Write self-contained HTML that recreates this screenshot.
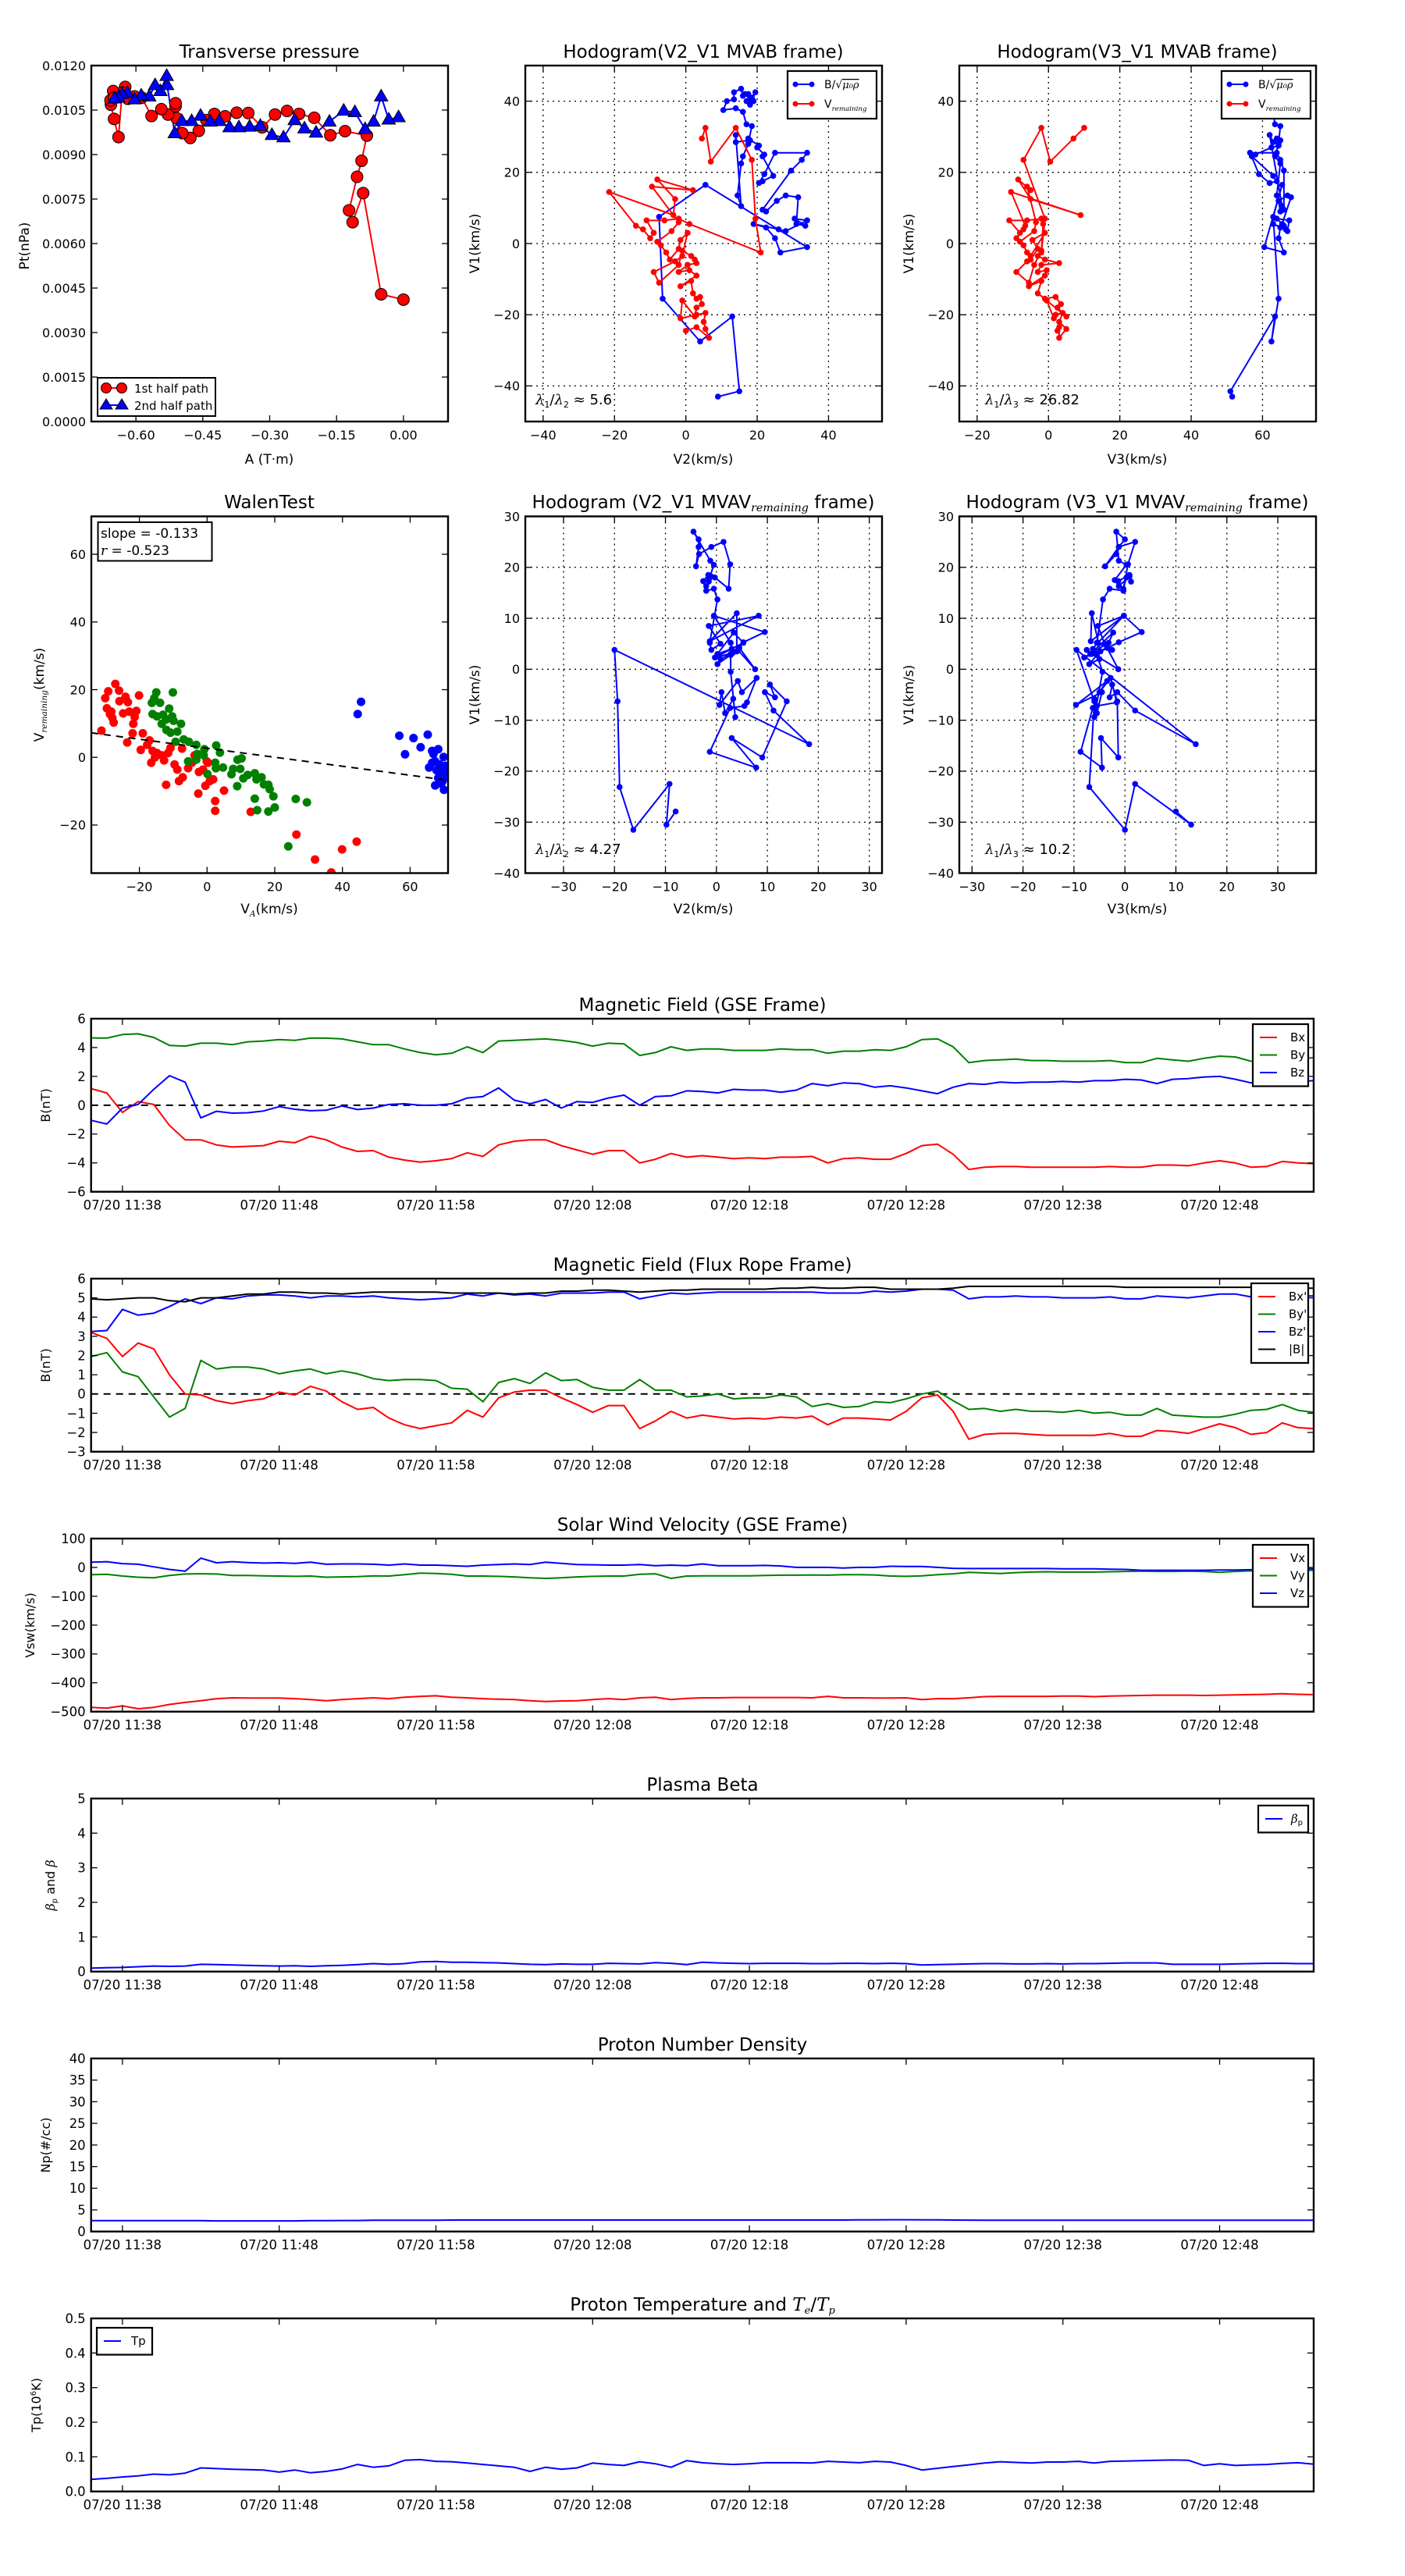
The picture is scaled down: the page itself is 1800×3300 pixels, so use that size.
<!DOCTYPE html>
<html><head><meta charset="utf-8"><style>
html,body{margin:0;padding:0;background:#fff;}
svg{display:block;font-family:"DejaVu Sans","Liberation Sans",sans-serif;}
</style></head><body>
<svg id="fig" xmlns="http://www.w3.org/2000/svg" width="1800" height="3300" viewBox="0 0 1800 3300"></svg>
<script>
// ===== Time series data (1-minute samples from 11:36) =====
const tsBx=[1.15,0.85,-0.5,0.25,0.05,-1.4,-2.4,-2.4,-2.75,-2.9,-2.85,-2.8,-2.5,-2.6,-2.15,-2.4,-2.9,-3.2,-3.15,-3.6,-3.8,-3.95,-3.85,-3.7,-3.3,-3.55,-2.75,-2.5,-2.4,-2.4,-2.8,-3.1,-3.4,-3.15,-3.15,-4.0,-3.75,-3.35,-3.6,-3.5,-3.6,-3.7,-3.65,-3.7,-3.6,-3.6,-3.55,-4.0,-3.7,-3.65,-3.75,-3.75,-3.35,-2.8,-2.7,-3.4,-4.45,-4.3,-4.25,-4.25,-4.3,-4.3,-4.3,-4.3,-4.3,-4.25,-4.3,-4.3,-4.15,-4.15,-4.2,-4.0,-3.85,-4.0,-4.3,-4.25,-3.9,-4.0,-4.05];
const tsBy=[4.67,4.65,4.9,4.95,4.7,4.15,4.1,4.3,4.3,4.2,4.4,4.45,4.55,4.5,4.65,4.65,4.6,4.4,4.2,4.2,3.9,3.65,3.5,3.6,4.05,3.65,4.45,4.5,4.55,4.6,4.5,4.35,4.1,4.3,4.25,3.45,3.65,4.05,3.8,3.9,3.9,3.8,3.8,3.8,3.9,3.85,3.85,3.6,3.75,3.75,3.85,3.8,4.05,4.55,4.6,4.05,2.95,3.1,3.15,3.2,3.1,3.1,3.05,3.05,3.05,3.1,2.95,2.95,3.25,3.15,3.05,3.25,3.4,3.35,3.05,3.1,3.2,3.2,3.3];
const tsBz=[-1.05,-1.3,-0.2,0.05,1.1,2.05,1.6,-0.88,-0.42,-0.55,-0.52,-0.4,-0.1,-0.28,-0.38,-0.35,-0.05,-0.3,-0.2,0.05,0.1,0,0,0.1,0.5,0.6,1.2,0.35,0.1,0.4,-0.2,0.25,0.2,0.5,0.7,0,0.6,0.65,1.0,0.95,0.85,1.1,1.05,1.05,0.9,1.05,1.5,1.35,1.55,1.5,1.25,1.35,1.2,1.0,0.8,1.25,1.5,1.45,1.6,1.55,1.6,1.6,1.65,1.6,1.7,1.7,1.8,1.75,1.5,1.8,1.85,1.95,2.0,1.8,1.55,1.55,1.4,1.65,1.7];
const frBx=[3.2,2.9,1.95,2.65,2.35,1.0,0,-0.05,-0.35,-0.5,-0.35,-0.25,0.1,-0.05,0.4,0.15,-0.4,-0.8,-0.7,-1.25,-1.6,-1.8,-1.65,-1.5,-0.85,-1.2,-0.2,0.1,0.2,0.2,-0.2,-0.55,-0.95,-0.6,-0.6,-1.8,-1.4,-0.9,-1.25,-1.1,-1.2,-1.3,-1.25,-1.3,-1.2,-1.25,-1.15,-1.6,-1.25,-1.25,-1.3,-1.35,-0.9,-0.2,-0.05,-0.9,-2.35,-2.1,-2.05,-2.05,-2.1,-2.15,-2.15,-2.15,-2.15,-2.05,-2.2,-2.2,-1.9,-1.95,-2.05,-1.8,-1.55,-1.75,-2.1,-2.0,-1.5,-1.75,-1.8];
const frBy=[1.95,2.15,1.15,0.9,-0.15,-1.2,-0.75,1.75,1.3,1.4,1.4,1.3,1.05,1.2,1.3,1.05,1.2,1.05,0.8,0.7,0.75,0.75,0.7,0.3,0.25,-0.4,0.6,0.8,0.55,1.1,0.7,0.75,0.35,0.2,0.2,0.75,0.2,0.2,-0.15,-0.1,0.0,-0.25,-0.2,-0.2,-0.05,-0.15,-0.65,-0.5,-0.7,-0.65,-0.4,-0.45,-0.25,0.0,0.15,-0.35,-0.8,-0.75,-0.9,-0.8,-0.9,-0.9,-0.95,-0.85,-1.0,-0.95,-1.1,-1.1,-0.75,-1.1,-1.15,-1.2,-1.2,-1.05,-0.85,-0.8,-0.55,-0.85,-0.95];
const frBz=[3.25,3.3,4.4,4.1,4.2,4.55,4.95,4.7,5.0,4.95,5.1,5.15,5.15,5.1,5.0,5.1,5.1,5.05,5.1,5.0,4.95,4.9,4.95,5.0,5.2,5.1,5.25,5.15,5.2,5.1,5.25,5.25,5.25,5.3,5.3,4.95,5.1,5.25,5.2,5.25,5.3,5.3,5.3,5.3,5.3,5.3,5.3,5.25,5.25,5.25,5.35,5.3,5.35,5.45,5.45,5.4,4.95,5.05,5.05,5.1,5.05,5.05,5.0,5.0,5.0,5.05,4.95,4.95,5.1,5.05,5.0,5.1,5.2,5.2,5.05,5.1,5.1,5.1,5.1];
const frBt=[4.95,4.9,4.95,5.0,5.0,4.85,4.8,5.0,5.0,5.1,5.2,5.2,5.3,5.3,5.25,5.25,5.2,5.25,5.3,5.3,5.3,5.3,5.3,5.25,5.25,5.25,5.25,5.2,5.25,5.25,5.35,5.35,5.4,5.4,5.35,5.3,5.35,5.4,5.4,5.45,5.45,5.45,5.45,5.45,5.5,5.5,5.55,5.5,5.5,5.55,5.55,5.45,5.45,5.45,5.45,5.5,5.6,5.6,5.6,5.6,5.6,5.6,5.6,5.6,5.6,5.6,5.55,5.55,5.55,5.55,5.55,5.55,5.55,5.55,5.55,5.55,5.5,5.5,5.5];
const vVx=[-485,-488,-480,-490,-485,-475,-468,-462,-455,-452,-453,-453,-453,-455,-458,-462,-458,-455,-452,-455,-450,-447,-445,-450,-452,-455,-457,-458,-462,-465,-463,-462,-458,-455,-458,-452,-450,-458,-454,-452,-452,-451,-451,-451,-451,-451,-452,-447,-452,-452,-453,-453,-452,-458,-455,-455,-452,-448,-447,-447,-447,-447,-446,-446,-448,-446,-445,-444,-443,-443,-443,-444,-443,-442,-441,-440,-438,-440,-441];
const vVy=[-25,-24,-30,-34,-36,-28,-23,-22,-23,-28,-28,-29,-30,-31,-30,-34,-33,-32,-29,-30,-25,-20,-21,-24,-30,-30,-31,-33,-36,-38,-36,-33,-31,-30,-30,-24,-22,-38,-30,-29,-29,-29,-29,-28,-27,-27,-26,-27,-25,-25,-26,-30,-31,-29,-25,-22,-17,-19,-21,-18,-16,-15,-16,-16,-16,-15,-14,-13,-14,-14,-13,-14,-17,-14,-12,-11,-10,-10,-10];
const vVz=[18,20,13,11,2,-7,-13,32,16,20,17,15,16,14,18,11,12,12,11,8,12,8,8,6,4,8,10,12,10,18,14,10,9,8,8,10,6,8,6,12,6,6,6,7,5,0,0,0,-2,0,0,4,3,3,0,-3,-4,-4,-4,-4,-4,-4,-5,-5,-5,-6,-7,-10,-10,-10,-10,-10,-9,-9,-8,-8,-6,-5,-5];
const betaP=[0.1,0.11,0.12,0.14,0.16,0.15,0.16,0.21,0.2,0.19,0.18,0.17,0.16,0.17,0.15,0.17,0.18,0.2,0.23,0.21,0.23,0.28,0.29,0.27,0.27,0.26,0.25,0.23,0.21,0.2,0.22,0.21,0.21,0.24,0.23,0.22,0.26,0.24,0.2,0.27,0.25,0.24,0.23,0.24,0.24,0.24,0.23,0.23,0.24,0.24,0.23,0.24,0.23,0.19,0.2,0.21,0.22,0.23,0.23,0.22,0.22,0.23,0.22,0.23,0.23,0.24,0.25,0.25,0.25,0.21,0.21,0.21,0.21,0.22,0.23,0.24,0.24,0.23,0.23];
const densNp=[2.5,2.5,2.5,2.5,2.5,2.5,2.5,2.5,2.45,2.45,2.45,2.45,2.45,2.45,2.5,2.5,2.55,2.55,2.6,2.6,2.6,2.62,2.62,2.65,2.65,2.65,2.65,2.65,2.65,2.65,2.65,2.65,2.65,2.65,2.65,2.65,2.65,2.65,2.65,2.65,2.65,2.65,2.65,2.65,2.65,2.65,2.65,2.65,2.65,2.68,2.7,2.72,2.72,2.7,2.68,2.65,2.63,2.62,2.6,2.6,2.6,2.6,2.6,2.6,2.6,2.6,2.6,2.6,2.6,2.6,2.6,2.6,2.6,2.6,2.6,2.6,2.6,2.6,2.6];
const tempTp=[0.035,0.038,0.042,0.045,0.05,0.048,0.053,0.068,0.066,0.064,0.063,0.062,0.056,0.062,0.054,0.058,0.065,0.078,0.07,0.074,0.09,0.092,0.087,0.086,0.082,0.078,0.074,0.07,0.058,0.07,0.064,0.068,0.082,0.078,0.075,0.086,0.08,0.07,0.089,0.083,0.08,0.078,0.08,0.083,0.083,0.083,0.082,0.087,0.085,0.083,0.087,0.085,0.075,0.062,0.067,0.072,0.077,0.082,0.086,0.084,0.082,0.085,0.085,0.087,0.082,0.087,0.088,0.089,0.09,0.091,0.09,0.075,0.08,0.075,0.077,0.078,0.081,0.083,0.079];
const timeTickMin=[2,12,22,32,42,52,62,72];
const timeTickLabels=["07/20 11:38","07/20 11:48","07/20 11:58","07/20 12:08","07/20 12:18","07/20 12:28","07/20 12:38","07/20 12:48"];

// ===== Transverse pressure =====
const ptA1=[0,-0.05,-0.0904,-0.114,-0.122,-0.104,-0.094,-0.082,-0.131,-0.164,-0.2,-0.234,-0.261,-0.288,-0.317,-0.348,-0.374,-0.4,-0.424,-0.442,-0.459,-0.478,-0.496,-0.509,-0.511,-0.511,-0.528,-0.543,-0.565,-0.587,-0.603,-0.618,-0.624,-0.631,-0.639,-0.649,-0.656,-0.657,-0.651,-0.649];
const ptP1=[0.00411,0.00429,0.0077,0.00672,0.00712,0.00825,0.00879,0.00964,0.00979,0.00965,0.01024,0.01037,0.01047,0.01035,0.00992,0.0104,0.01041,0.01029,0.01037,0.01016,0.0098,0.00956,0.00972,0.01023,0.01063,0.01073,0.01035,0.01053,0.0103,0.01092,0.01096,0.01088,0.01128,0.01109,0.00959,0.0102,0.01068,0.01083,0.01114,0.01092];
const ptA2=[-0.011,-0.033,-0.05,-0.067,-0.086,-0.109,-0.134,-0.166,-0.196,-0.222,-0.244,-0.269,-0.295,-0.321,-0.345,-0.369,-0.39,-0.413,-0.433,-0.455,-0.475,-0.497,-0.513,-0.53,-0.531,-0.545,-0.557,-0.57,-0.588,-0.603,-0.619,-0.631,-0.639,-0.648];
const ptP2=[0.01026,0.01018,0.01096,0.01011,0.00986,0.01043,0.01048,0.01011,0.00974,0.00988,0.01016,0.00958,0.00966,0.00997,0.00994,0.00992,0.00992,0.01013,0.01011,0.01031,0.01013,0.01013,0.00972,0.01134,0.01165,0.01114,0.01134,0.01096,0.01099,0.01086,0.01109,0.01104,0.01092,0.01089];
const ptXTicks=[-0.6,-0.45,-0.3,-0.15,0];
const ptXLabels=["\u22120.60","\u22120.45","\u22120.30","\u22120.15","0.00"];
const ptYTicks=[0,0.0015,0.003,0.0045,0.006,0.0075,0.009,0.0105,0.012];
const ptYLabels=["0.0000","0.0015","0.0030","0.0045","0.0060","0.0075","0.0090","0.0105","0.0120"];

// ===== MVAB hodograms (shared V1) =====
const mbBv1=[-43,-41.5,-20.5,-27.5,-15.5,7.5,16.5,-1,-2.5,1.5,4.5,5.5,4,3.5,6.5,7,5,5.5,13,13.5,12,9,9.5,20.5,23.5,25.5,25.5,19.5,17,17.5,19,24.5,25,27,27.5,29.5,29,28.5,30.5,10.5,13.5,22.5,24.5,28,33,33.5,37,38,37.5,40,40.5,42.5,43.5,41.5,42,41,40,40,39,42.5,40.5,42];
const mbBv2=[9,15,13,4,-6.5,-7.5,5.5,34,26.5,25,22.5,19,26,28,34,30.5,33.5,31,31.5,28,25.5,22.5,21.5,29.5,32.5,34,25,22,20.5,21.5,24.5,21.5,22,20,20.5,17.5,18,14,14,15.5,14.5,15.5,16,17.5,18.5,17,16,14,10.5,11.5,13.5,13.5,15.5,16,17.5,18.5,17,19,18,19.5,18,16.5];
const mbBv3=[51.5,51,63.5,62.5,64.5,63,65.5,60.5,66,64.5,65,63,66.5,67,67.5,64,66,65.5,68,67,64.5,65,66,66,65,64,56.5,59,62,64,63,57,58,62.5,64.5,64,65,63,62,65.5,64,65,63.5,64.5,65,63.5,63,62,62.5,63,62,61,62,63,62,62.5,63,62,61,62,61.5,62];
const mbRv1=[29.5,32.5,23,32.5,23.5,7,-2.5,5.5,7,6.5,6.5,3,1.5,4,5,14.5,8,12.5,18,15,16,6,3.5,0.5,-0.5,-2.5,-4.5,-1.5,1,3,-3.5,-5,-8,-11,-6,-2,-3.5,-4.5,-5.5,-6,-8,-7.5,-9,-12,-10.5,-14,-15.5,-15,-17,-18,-20.5,-16,-21,-20,-19.5,-22,-24,-26.5,-23.5,-24.5];
const mbRv2=[4.5,5.5,7,14,18.5,19.5,21,1,-2,-6,-11,-9,-10,-12,-14,-21.5,-3.5,-3,-8,2,-9.5,-2,-4,-8,-7,-5.5,-4.5,-2,-1.5,0.5,-1,-3,-9,-7.5,-2,-1,1.5,2.5,3,0.5,-2,1,3,-1.5,1.5,2,3,4,4.5,3,2.5,-1,-1.5,3,5.5,5,5.5,6.5,3,0];
const mbRv3=[7,10,0.5,-2,-7,-1,-2,-1.5,-2,-6,-11,-8,-9,-7,-6.5,-10.5,9,-5,-8.5,-5,-6,-3.5,-4,-8,-7,-6,-5,-3,-4.5,-1,-5,-6,-9,-5.5,-4,-2,-3,-1,3,-2,-3,-0.5,-1,-5.5,-2,-3,-1,2,3.5,2.5,5,-0.5,1.5,2,4,3,5,3,3,2.5];
const mbXTicks2=[-40,-20,0,20,40];
const mbXTicks3=[-20,0,20,40,60];
const mbYTicks=[-40,-20,0,20,40];

// ===== MVAV hodograms (shared V1) =====
const mvV1=[-27.9,-30.5,-22.5,-31.5,-23.1,-6.3,3.8,-14.7,-8.1,-4.5,-5.5,-3,-6.3,-17.3,-13.5,-19.3,-16.2,-7.6,-7.2,-6.5,-1.7,-4.5,-2.3,-7,-4.5,-8.6,-5.8,-9.4,-0.5,2.8,1,2,3,3.8,0,4.2,3.2,2.3,5.2,7.2,3,4,5.2,10.5,7.3,5.3,3.5,11,5.5,10.5,8.5,5,3.8,5.2,13.7,15.8,15.4,17.3,18.5,18,15.8,20.6,25,24,22.6,20.2,24,25.5,27,21.3,20.5,17.5,16.3,18.2,17.2];
const mvV2=[-8,-9.8,-9.2,-16.3,-19,-19.4,-20,18.2,11.2,9.5,11.5,10.5,13.8,9,3,7.8,-1.3,2.7,5.5,6,7.9,5,4.2,0.6,1,1.7,3.3,3.7,2.8,2.8,0.2,0.8,2.8,4.2,7.6,4.5,3.2,-0.3,5.3,3.4,0.2,3,2.8,-0.5,9.5,5.3,4,4,-1.3,8.3,-1.5,0.8,-1,-1.3,0.2,-0.5,-2,-2.6,-1.6,-0.3,2.4,2.7,1.4,-1,-3.4,-4,-3.5,-3.5,-4.5,-1.2,-0.5,-1.5,-2,-1,-1.5];
const mvV3=[10,13,2,0,-7,-6,-9.5,13.9,2,-1.5,-3,-2.5,-1.5,-1.3,-4.7,-4.5,-8.7,-6.3,-5.5,-1.6,-2.8,-5,-3.5,-9.6,-4.5,-5.5,-6,-6,-4.4,-5.5,-7,-5,-6.5,-7.5,-1.3,-3.5,-5.8,-8,-3.2,-2.3,-6.8,-6.3,-5.3,-0.2,3.3,-1.2,-4.8,-6.5,-6.7,-0.2,-5.3,-4,-2.5,-5.5,-4.3,-3,-0.3,-1.3,0.9,0.3,-0.3,0.6,2,-1.2,-1.7,-3.9,-1.2,0,-1.7,-1.2,0.3,-2,-1.2,0.9,1.2];
const mvXTicks2=[-30,-20,-10,0,10,20,30];
const mvYTicks=[-40,-30,-20,-10,0,10,20,30];

// ===== Walen test =====
const wRx=[-31.2,-30.1,-29.6,-29.2,-28.7,-28.0,-27.6,-28.3,-27.1,-26.0,-25.9,-24.8,-24.1,-23.6,-23.4,-23.0,-22.0,-21.8,-21.4,-20.9,-20.1,-19.6,-19.0,-17.7,-17.0,-16.5,-16.1,-15.4,-14.8,-13.4,-12.7,-12.1,-11.5,-10.8,-9.6,-8.8,-8.3,-7.4,-7.2,-5.6,-4.5,-2.6,-2.4,-1.2,-0.5,0.3,0.8,1.8,2.4,2.4,5.0,12.9,26.4,31.9,36.7,39.9,44.2,-0.1,-3.7];
const wRy=[7.9,17.5,14.5,19.5,12.8,11.7,10.3,13.5,21.7,19.7,16.6,13.0,17.9,4.4,16.3,13.5,7.1,9.9,11.9,13.7,18.3,2.2,7.1,3.7,5.0,-1.6,1.9,0.0,1.3,0.6,-0.9,-8.1,1.3,2.8,-2.1,-3.6,-7.0,2.6,-5.9,-3.2,-1.6,-10.7,-4.3,-3.6,-8.4,-1.6,-7.0,-6.5,-12.9,-15.8,-9.8,-16.1,-22.8,-30.2,-34.0,-27.2,-24.9,-1.2,0.6];
const wGx=[-16.3,-15.6,-15.0,-13.9,-16.1,-14.8,-13.0,-13.4,-12.1,-11.2,-10.3,-10.1,-9.9,-12.0,-10.8,-8.8,-7.7,-9.3,-6.9,-5.4,-3.2,-0.8,-2.9,-5.6,-3.2,-1.0,0.1,2.7,3.8,2.4,2.6,4.7,7.2,7.7,9.0,10.2,9.8,10.7,12.0,14.1,14.6,16.1,16.8,18.1,18.5,19.6,14.1,14.8,18.1,20.0,8.9,26.2,29.5,24.0];
const wGy=[16.1,17.5,19.2,16.1,12.8,12.1,12.6,9.9,11.2,14.4,12.1,19.2,10.8,8.1,7.3,7.6,9.9,4.6,5.3,4.6,3.7,2.4,1.0,-1.2,-0.7,0.6,-4.9,3.5,1.4,-1.6,-3.2,-3.0,-5.0,-3.4,-0.7,-0.3,-3.4,-6.2,-5.2,-4.7,-6.5,-5.9,-8.0,-8.1,-9.4,-11.5,-12.2,-15.6,-16.0,-14.8,-8.5,-12.3,-13.3,-26.3];
const wBx=[44.5,45.5,56.8,58.5,61.0,63.1,65.2,65.6,66.5,66.9,67.4,67.8,68.3,68.7,69.2,69.6,70.0,70.5,70.8,67.4,69.2,69.9,70.2,66.5,68.3];
const wBy=[12.8,16.4,6.4,0.9,5.7,3.0,6.7,-3.0,1.9,1.0,-1.2,-3.8,2.4,-2.1,-4.3,-7.0,-9.6,-2.5,-5.6,-8.3,-7.8,0.1,-3.4,-1.6,-6.1];
const wSlope=-0.133, wIntercept=2.7;
const wXTicks=[-20,0,20,40,60];
const wYTicks=[-20,0,20,40,60];

// ===== drawing =====
const NS='http://www.w3.org/2000/svg';
const svg=document.getElementById('fig');
function mk(tag,attrs,parent){const e=document.createElementNS(NS,tag);for(const k in attrs)e.setAttribute(k,attrs[k]);(parent||svg).appendChild(e);return e;}
function fmtNum(v){return (v<0?'\u2212':'')+Math.abs(v);}
let clipId=0;
function axes(name,x0,y0,w,h,xmin,xmax,ymin,ymax){
  const g=mk('g',{});
  
  
  const id='clip'+(clipId++);
  const cp=mk('clipPath',{id:id},g);mk('rect',{x:x0,y:y0,width:w,height:h},cp);
  const data=mk('g',{'clip-path':'url(#'+id+')'},g);
  
  
  return {g,data,x0,y0,w,h,sx:v=>x0+(v-xmin)/(xmax-xmin)*w,sy:v=>y0+h-(v-ymin)/(ymax-ymin)*h};
}
function frame(ax,xt,xl,yt,yl,fs,grid){
  const g=ax.g;
  if(grid){
    xt.forEach(v=>{const l=mk('line',{x1:ax.sx(v),x2:ax.sx(v),y1:ax.y0,y2:ax.y0+ax.h,stroke:'#000','stroke-width':1.3,'stroke-dasharray':'2,5'},g);
      
      });
    yt.forEach(v=>{const l=mk('line',{x1:ax.x0,x2:ax.x0+ax.w,y1:ax.sy(v),y2:ax.sy(v),stroke:'#000','stroke-width':1.3,'stroke-dasharray':'2,5'},g);
      
      });
  }
  g.appendChild(ax.data);
  xt.forEach((v,i)=>{const x=ax.sx(v);
    mk('line',{x1:x,x2:x,y1:ax.y0+ax.h,y2:ax.y0+ax.h-8,stroke:'#000','stroke-width':1.3},g);
    mk('line',{x1:x,x2:x,y1:ax.y0,y2:ax.y0+8,stroke:'#000','stroke-width':1.3},g);
    const t=mk('text',{x:x,y:ax.y0+ax.h+23,'font-size':fs,'text-anchor':'middle',fill:'#000'},g);
    
    
    t.textContent=xl[i];});
  yt.forEach((v,i)=>{const y=ax.sy(v);
    mk('line',{x1:ax.x0,x2:ax.x0+8,y1:y,y2:y,stroke:'#000','stroke-width':1.3},g);
    mk('line',{x1:ax.x0+ax.w,x2:ax.x0+ax.w-8,y1:y,y2:y,stroke:'#000','stroke-width':1.3},g);
    const t=mk('text',{x:ax.x0-7,y:y+fs*0.36,'font-size':fs,'text-anchor':'end',fill:'#000'},g);
    
    
    t.textContent=yl[i];});
  const r=mk('rect',{x:ax.x0,y:ax.y0,width:ax.w,height:ax.h,fill:'none',stroke:'#000','stroke-width':2.4},g);
  
  
}
function line(ax,xs,ys,color,name,dash){
  const n=Math.min(xs.length,ys.length);let d='';
  for(let i=0;i<n;i++)d+=(i?'L':'M')+ax.sx(xs[i]).toFixed(1)+','+ax.sy(ys[i]).toFixed(1);
  const p=mk('path',{d:d,fill:'none',stroke:color,'stroke-width':2,'stroke-linejoin':'round'},ax.data);
  if(dash)p.setAttribute('stroke-dasharray',dash);
  
  
  return p;
}
function dots(ax,xs,ys,color,r,name,edge){
  const n=Math.min(xs.length,ys.length);
  for(let i=0;i<n;i++){const c=mk('circle',{cx:ax.sx(xs[i]),cy:ax.sy(ys[i]),r:r,fill:color,stroke:edge||'none','stroke-width':1},ax.data);
    
    }
}
function tris(ax,xs,ys,color,s,name){
  const n=Math.min(xs.length,ys.length);
  for(let i=0;i<n;i++){const x=ax.sx(xs[i]),y=ax.sy(ys[i]);
    const p=mk('polygon',{points:`${x},${y-s} ${x-s*0.95},${y+s*0.65} ${x+s*0.95},${y+s*0.65}`,fill:color,stroke:'#000','stroke-width':1},ax.data);
    
    }
}
function text(x,y,str,fs,name,anchor,rot){
  const t=mk('text',{x:x,y:y,'font-size':fs,'text-anchor':anchor||'middle',fill:'#000'});
  if(rot)t.setAttribute('transform',`rotate(-90 ${x} ${y})`);
  
  
  t.innerHTML=str;return t;
}
const sub=(s)=>`<tspan font-family="DejaVu Serif,Liberation Serif,serif" font-style="italic" font-size="0.62em" dy="4">${s}</tspan>`;
const idx=(n)=>Array.from({length:n},(_,i)=>i);
const TITLE=23;

// ---- Transverse pressure ----
{const ax=axes('transverse-pressure-chart',117,84,457,456,-0.7,0.1,0,0.012);
 line(ax,ptA1,ptP1,'#f00','first-half-path-line');
 line(ax,ptA2,ptP2,'#00f','second-half-path-line');
 dots(ax,ptA1,ptP1,'#f00',7.5,'first-half-point','#000');
 tris(ax,ptA2,ptP2,'#00f',9,'second-half-point');
 frame(ax,ptXTicks,ptXLabels,ptYTicks,ptYLabels,16,false);
 text(345,74,'Transverse pressure',TITLE,'chart-title');
 text(345,594,'A (T·m)',17,'x-axis-title');
 text(37,315,'Pt(nPa)',17,'y-axis-title','middle',true);
 const lg=mk('rect',{x:125,y:484,width:151,height:49,fill:'#fff',stroke:'#000','stroke-width':2});
 
 
 mk('line',{x1:136,x2:156,y1:497,y2:497,stroke:'#f00','stroke-width':2});
 mk('circle',{cx:136,cy:497,r:6.5,fill:'#f00',stroke:'#000'});mk('circle',{cx:156,cy:497,r:6.5,fill:'#f00',stroke:'#000'});
 mk('line',{x1:136,x2:156,y1:519,y2:519,stroke:'#00f','stroke-width':2});
 mk('polygon',{points:'136,511 128,524 144,524',fill:'#00f',stroke:'#000'});mk('polygon',{points:'156,511 148,524 164,524',fill:'#00f',stroke:'#000'});
 text(172,503,'1st half path',15,'legend-entry-first-half','start');
 text(172,525,'2nd half path',15,'legend-entry-second-half','start');}

function legendHodo(x,y){
  const lg=mk('rect',{x:x,y:y,width:114,height:61,fill:'#fff',stroke:'#000','stroke-width':2.2});
  
  
  mk('line',{x1:x+10,x2:x+31,y1:y+17,y2:y+17,stroke:'#00f','stroke-width':2});
  mk('circle',{cx:x+10,cy:y+17,r:3.5,fill:'#00f'});mk('circle',{cx:x+31,cy:y+17,r:3.5,fill:'#00f'});
  text(x+47,y+22,'B/√<tspan font-family="DejaVu Serif,serif" font-style="italic" font-size="13" text-decoration="overline">μ₀ρ</tspan>',14,'legend-entry-b','start');
  mk('line',{x1:x+10,x2:x+31,y1:y+42,y2:y+42,stroke:'#f00','stroke-width':2});
  mk('circle',{cx:x+10,cy:y+42,r:3.5,fill:'#f00'});mk('circle',{cx:x+31,cy:y+42,r:3.5,fill:'#f00'});
  text(x+47,y+47,'V'+sub('remaining'),14,'legend-entry-v-remaining','start');
}
const lbl=(a)=>a.map(fmtNum);
const lam=(a,b,v)=>`<tspan font-family="DejaVu Serif,serif" font-style="italic">λ</tspan><tspan font-size="11" dy="4">${a}</tspan><tspan dy="-4">/</tspan><tspan font-family="DejaVu Serif,serif" font-style="italic">λ</tspan><tspan font-size="11" dy="4">${b}</tspan><tspan dy="-4"> ≈ ${v}</tspan>`;

// ---- MVAB V2 ----
{const ax=axes('hodogram-v2-v1-mvab',673,84,457,456,-45,55,-50,50);
 line(ax,mbBv2,mbBv1,'#00f','b-series-line');dots(ax,mbBv2,mbBv1,'#00f',3.8,'b-series-point');
 line(ax,mbRv2,mbRv1,'#f00','v-remaining-line');dots(ax,mbRv2,mbRv1,'#f00',3.8,'v-remaining-point');
 frame(ax,mbXTicks2,lbl(mbXTicks2),mbYTicks,lbl(mbYTicks),16,true);
 text(901,74,'Hodogram(V2_V1 MVAB frame)',TITLE,'chart-title');
 text(901,594,'V2(km/s)',17,'x-axis-title');
 text(614,312,'V1(km/s)',17,'y-axis-title','middle',true);
 text(686,518,lam(1,2,'5.6'),18,'eigenvalue-ratio','start');
 legendHodo(1009,91);}

// ---- MVAB V3 ----
{const ax=axes('hodogram-v3-v1-mvab',1229,84,457,456,-25,75,-50,50);
 line(ax,mbBv3,mbBv1,'#00f','b-series-line');dots(ax,mbBv3,mbBv1,'#00f',3.8,'b-series-point');
 line(ax,mbRv3,mbRv1,'#f00','v-remaining-line');dots(ax,mbRv3,mbRv1,'#f00',3.8,'v-remaining-point');
 frame(ax,mbXTicks3,lbl(mbXTicks3),mbYTicks,lbl(mbYTicks),16,true);
 text(1457,74,'Hodogram(V3_V1 MVAB frame)',TITLE,'chart-title');
 text(1457,594,'V3(km/s)',17,'x-axis-title');
 text(1170,312,'V1(km/s)',17,'y-axis-title','middle',true);
 text(1262,518,lam(1,3,'26.82'),18,'eigenvalue-ratio','start');
 legendHodo(1565,91);}

// ---- Walen ----
{const ax=axes('walen-test-chart',117,661.5,457,457,-34.2,71.2,-34.2,71.2);
 dots(ax,wRx,wRy,'#f00',5.5,'walen-point-red');
 dots(ax,wGx,wGy,'#008000',5.5,'walen-point-green');
 dots(ax,wBx,wBy,'#00f',5.5,'walen-point-blue');
 const fx=[-34.2,71.2];const fy=fx.map(v=>wSlope*v+wIntercept);
 line(ax,fx,fy,'#000','regression-fit-line','9,7');
 frame(ax,wXTicks,lbl(wXTicks),wYTicks,lbl(wYTicks),16,false);
 text(345,651,'WalenTest',TITLE,'chart-title');
 text(345,1170,'V'+sub('A')+'<tspan dy="-4">(km/s)</tspan>',17,'x-axis-title');
 text(56,890,'V'+sub('remaining')+'<tspan dy="-4">(km/s)</tspan>',17,'y-axis-title','middle',true);
 const b=mk('rect',{x:125.5,y:669,width:146,height:49.5,fill:'#fff',stroke:'#000','stroke-width':2});
 
 
 text(129,689,'slope = -0.133',17,'slope-label','start');
 text(129,711,'<tspan font-family="DejaVu Serif,serif" font-style="italic">r</tspan> = -0.523',17,'r-label','start');}

// ---- MVAV V2 ----
{const ax=axes('hodogram-v2-v1-mvav',673,661.5,457,457,-37.5,32.5,-40,30);
 line(ax,mvV2,mvV1,'#00f','mvav-line');dots(ax,mvV2,mvV1,'#00f',3.8,'mvav-point');
 frame(ax,mvXTicks2,lbl(mvXTicks2),mvYTicks,lbl(mvYTicks),16,true);
 text(901,651,'Hodogram (V2_V1 MVAV'+sub('remaining')+'<tspan dy="-4"> frame)</tspan>',TITLE,'chart-title');
 text(901,1170,'V2(km/s)',17,'x-axis-title');
 text(614,890,'V1(km/s)',17,'y-axis-title','middle',true);
 text(686,1094,lam(1,2,'4.27'),18,'eigenvalue-ratio','start');}

// ---- MVAV V3 ----
{const ax=axes('hodogram-v3-v1-mvav',1229,661.5,457,457,-32.5,37.5,-40,30);
 line(ax,mvV3,mvV1,'#00f','mvav-line');dots(ax,mvV3,mvV1,'#00f',3.8,'mvav-point');
 frame(ax,mvXTicks2,lbl(mvXTicks2),mvYTicks,lbl(mvYTicks),16,true);
 text(1457,651,'Hodogram (V3_V1 MVAV'+sub('remaining')+'<tspan dy="-4"> frame)</tspan>',TITLE,'chart-title');
 text(1457,1170,'V3(km/s)',17,'x-axis-title');
 text(1170,890,'V1(km/s)',17,'y-axis-title','middle',true);
 text(1262,1094,lam(1,3,'10.2'),18,'eigenvalue-ratio','start');}

// ---- Time series ----
function tsPanel(name,top,ymin,ymax,yt,yl,title,ylab,ylabX,series,legend,zero){
  const ax=axes(name,116.7,top,1566.3,221.7,0,78,ymin,ymax);
  if(zero)line(ax,[0,78],[0,0],'#000','zero-reference-line','9,7');
  series.forEach(s=>line(ax,idx(s.v.length),s.v,s.c,s.n));
  frame(ax,timeTickMin,timeTickLabels,yt,yl,16.5,false);
  text(900,top-10,title,TITLE,'chart-title');
  text(ylabX,top+111,ylab,16,'y-axis-title','middle',true);
  if(legend){
    const lx=legend.x,ly=top+legend.dy,n=series.length;
    const b=mk('rect',{x:lx,y:ly,width:legend.w,height:12+n*22.5,fill:'#fff',stroke:'#000','stroke-width':2.2});
    
    
    series.forEach((s,i)=>{const y=ly+17+i*22.5;
      mk('line',{x1:lx+9,x2:lx+31,y1:y,y2:y,stroke:s.c,'stroke-width':2});
      text(lx+(legend.tx||48),y+5,s.lbl,15,'legend-entry-'+s.n,'start');});
  }
}
tsPanel('magnetic-field-gse-chart',1305,-6,6,[-6,-4,-2,0,2,4,6],lbl([-6,-4,-2,0,2,4,6]),'Magnetic Field (GSE Frame)','B(nT)',64,
  [{v:tsBx,c:'#f00',n:'bx',lbl:'Bx'},{v:tsBy,c:'#008000',n:'by',lbl:'By'},{v:tsBz,c:'#00f',n:'bz',lbl:'Bz'}],{x:1605,dy:7,w:71},true);
tsPanel('magnetic-field-flux-rope-chart',1638,-3,6,[-3,-2,-1,0,1,2,3,4,5,6],lbl([-3,-2,-1,0,1,2,3,4,5,6]),'Magnetic Field (Flux Rope Frame)','B(nT)',64,
  [{v:frBx,c:'#f00',n:'bx-prime',lbl:"Bx'"},{v:frBy,c:'#008000',n:'by-prime',lbl:"By'"},{v:frBz,c:'#00f',n:'bz-prime',lbl:"Bz'"},{v:frBt,c:'#000',n:'b-total',lbl:'|B|'}],{x:1603,dy:6,w:73},true);
tsPanel('solar-wind-velocity-chart',1971,-500,100,[-500,-400,-300,-200,-100,0,100],lbl([-500,-400,-300,-200,-100,0,100]),'Solar Wind Velocity (GSE Frame)','Vsw(km/s)',44,
  [{v:vVx,c:'#f00',n:'vx',lbl:'Vx'},{v:vVy,c:'#008000',n:'vy',lbl:'Vy'},{v:vVz,c:'#00f',n:'vz',lbl:'Vz'}],{x:1605,dy:8,w:71},false);
tsPanel('plasma-beta-chart',2304,0,5,[0,1,2,3,4,5],['0','1','2','3','4','5'],'Plasma Beta','<tspan font-family="DejaVu Serif,serif" font-style="italic">β</tspan><tspan font-size="10" dy="3">p</tspan><tspan dy="-3"> and </tspan><tspan font-family="DejaVu Serif,serif" font-style="italic">β</tspan>',70,
  [{v:betaP,c:'#00f',n:'beta-p',lbl:'<tspan font-family="DejaVu Serif,serif" font-style="italic">β</tspan><tspan font-size="10" dy="3">p</tspan>'}],{x:1612,dy:9,w:64,tx:42},false);
tsPanel('proton-density-chart',2637,0,40,[0,5,10,15,20,25,30,35,40],['0','5','10','15','20','25','30','35','40'],'Proton Number Density','Np(#/cc)',64,
  [{v:densNp,c:'#00f',n:'np'}],null,false);
tsPanel('proton-temperature-chart',2970,0,0.5,[0,0.1,0.2,0.3,0.4,0.5],['0.0','0.1','0.2','0.3','0.4','0.5'],'Proton Temperature and <tspan font-family="DejaVu Serif,serif" font-style="italic">T</tspan><tspan font-family="DejaVu Serif,serif" font-style="italic" font-size="13" dy="4">e</tspan><tspan dy="-4">/</tspan><tspan font-family="DejaVu Serif,serif" font-style="italic">T</tspan><tspan font-family="DejaVu Serif,serif" font-style="italic" font-size="13" dy="4">p</tspan>','Tp(10<tspan font-size="10" dy="-6">6</tspan><tspan dy="6">K)</tspan>',52,
  [{v:tempTp,c:'#00f',n:'tp',lbl:'Tp'}],{x:124,dy:12,w:71,tx:44},false);
</script>
</body></html>
